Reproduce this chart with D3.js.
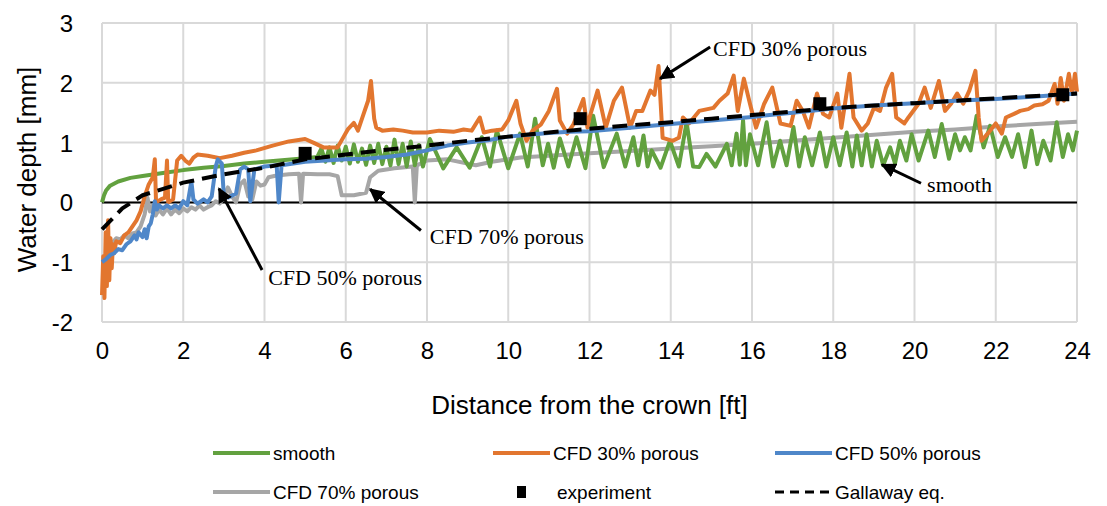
<!DOCTYPE html>
<html>
<head>
<meta charset="utf-8">
<script src="https://cdn.jsdelivr.net/npm/d3@7"></script>
<style>
  body { margin: 0; background: #fff; }
  svg { display: block; }
</style>
</head>
<body>
<div id="chart"></div>
<script>
// Series values: [distance ft, depth mm]
var smooth = [[0,0],[0.05,0.12],[0.1,0.2],[0.2,0.28],[0.4,0.35],[0.7,0.41],[1,0.44],[1.5,0.49],[2,0.54],[2.5,0.58],[3,0.61],[3.5,0.65],[4,0.68],[4.5,0.71],[5,0.74],[5.3,0.76],
  [5.4,0.9],[5.5,0.68],[5.6,0.92],[5.7,0.66],[5.8,0.95],[5.9,0.7],[6.0,0.93],[6.1,0.65],[6.2,0.97],[6.3,0.68],[6.4,0.9],[6.5,0.63],[6.6,0.95],[6.7,0.66],[6.8,0.98],[6.9,0.64],[7.0,0.93],[7.1,0.62],[7.2,1.05],[7.3,0.64],[7.4,0.98],[7.5,0.6],[7.6,1.02],[7.7,0.62],[7.8,0.96],[7.9,0.6],
  [8.07,1.06],[8.4,0.57],[8.73,0.92],[9.05,0.58],[9.35,1.09],[9.55,0.6],[9.72,1.2],[10.0,0.57],[10.29,1.15],[10.48,0.6],[10.66,1.4],[10.85,0.62],[10.98,0.98],[11.12,0.58],[11.27,1.07],[11.48,0.6],[11.68,1.09],[11.9,0.57],
  [12.09,1.45],[12.35,0.59],[12.67,1.15],[12.88,0.6],[13.08,1.09],[13.2,0.62],[13.33,1.12],[13.43,0.6],[13.53,0.87],[13.75,0.58],[13.98,1.03],[14.2,0.6],[14.39,1.34],[14.55,0.6],[14.7,0.59],[14.88,0.81],[15.1,0.6],[15.38,0.98],[15.5,0.62],[15.62,1.15],[15.7,0.63],[15.78,1.37],[15.85,0.62],
  [15.95,1.14],[16.15,0.62],[16.36,1.34],[16.52,0.6],[16.69,1.03],[16.85,0.62],[17.02,1.26],[17.16,0.6],[17.3,1.09],[17.48,0.62],[17.67,1.17],[17.83,0.6],[18.0,1.09],[18.16,0.62],[18.33,1.17],[18.47,0.6],[18.58,1.12],[18.7,0.62],[18.82,1.14],[18.95,0.6],[19.07,1.03],[19.23,0.62],[19.4,0.92],[19.52,0.65],[19.64,1.03],[19.8,0.7],
  [19.93,1.14],[20.1,0.7],[20.34,1.2],[20.5,0.76],[20.67,1.31],[20.85,0.73],[21.0,1.14],[21.12,0.87],[21.24,1.09],[21.38,0.87],[21.53,1.45],[21.7,0.92],[21.86,1.28],[22.05,0.76],[22.23,1.09],[22.4,0.76],[22.55,1.14],[22.72,0.59],[22.88,1.2],[23.02,0.64],[23.17,1.03],[23.35,0.7],[23.5,1.34],[23.65,0.76],[23.78,1.14],[23.9,0.87],[24.0,1.2]];

var porous30 = [[0,-1.55],[0.03,-0.9],[0.06,-1.6],[0.09,-0.5],[0.12,-1.4],[0.15,-0.3],[0.18,-1.3],[0.21,-0.6],[0.24,-1.1],[0.27,-0.7],[0.3,-0.85],[0.35,-0.65],[0.45,-0.68],[0.55,-0.55],[0.65,-0.5],[0.75,-0.4],[0.85,-0.3],[0.95,-0.15],[1.05,0.1],[1.15,0.3],[1.25,0.42],[1.3,0.72],[1.33,0.0],[1.45,0.05],[1.55,0.08],[1.6,0.7],[1.63,0.0],[1.75,0.05],[1.85,0.7],[1.95,0.78],[2.05,0.7],[2.15,0.65],[2.25,0.75],[2.35,0.8],[2.6,0.78],[2.9,0.74],[3.2,0.78],[3.5,0.83],[3.8,0.87],[4.2,0.95],[4.6,1.02],[5.0,1.06],[5.2,1.0],[5.45,0.92],[5.8,0.92],[5.95,1.1],[6.05,1.22],[6.2,1.33],[6.3,1.2],[6.45,1.5],[6.55,1.7],[6.62,2.03],[6.7,1.4],[6.75,1.25],[6.9,1.2],[7.17,1.22],[7.4,1.2],[7.65,1.17],[8.0,1.17],[8.3,1.2],[8.65,1.18],[8.9,1.22],[9.1,1.2],[9.3,1.42],[9.4,1.17],[9.6,1.2],[9.85,1.22],[10.0,1.37],[10.2,1.7],[10.3,1.32],[10.45,1.03],[10.6,1.2],[10.8,1.3],[11.0,1.53],[11.2,1.9],[11.27,1.37],[11.45,1.15],[11.6,1.3],[11.85,1.73],[11.95,1.25],
  [12.0,1.42],[12.2,1.87],[12.4,1.25],[12.6,1.7],[12.8,1.92],[13.0,1.25],[13.15,1.53],[13.3,1.53],[13.5,1.87],[13.6,1.8],[13.7,2.28],[13.8,1.08],[14.05,1.03],[14.2,1.08],[14.3,1.42],[14.45,1.32],[14.7,1.53],[15.05,1.58],[15.2,1.7],[15.4,1.82],[15.55,2.12],[15.65,1.53],[15.8,2.07],[15.95,1.65],[16.1,1.25],[16.3,1.65],[16.5,1.92],[16.7,1.32],[16.95,1.28],[17.1,1.7],[17.25,1.53],[17.4,1.25],[17.6,1.82],[17.75,1.48],[17.9,1.42],[18.1,1.82],[18.2,1.25],[18.4,2.15],[18.5,1.42],[18.7,1.2],[18.85,1.32],[19.0,1.58],[19.15,1.53],[19.3,1.92],[19.45,2.15],[19.55,1.42],[19.75,1.32],[19.85,1.42],
  [20.1,1.65],[20.25,1.92],[20.4,1.58],[20.6,2.03],[20.75,1.53],[20.9,1.65],[21.05,1.82],[21.2,1.65],[21.35,1.87],[21.5,2.2],[21.58,1.42],[21.65,1.03],[21.8,1.15],[22.0,1.32],[22.15,1.15],[22.25,1.42],[22.45,1.48],[22.6,1.53],[22.8,1.56],[22.95,1.62],[23.15,1.64],[23.3,1.7],[23.38,1.85],[23.45,1.98],[23.52,1.65],[23.6,2.08],[23.68,1.7],[23.8,2.15],[23.88,1.82],[23.95,2.15],[24,1.85]];

var porous50 = [[0,-1.0],[0.1,-0.95],[0.2,-0.88],[0.3,-0.85],[0.4,-0.78],[0.5,-0.8],[0.6,-0.7],[0.7,-0.65],[0.8,-0.55],[0.85,-0.62],[0.9,-0.5],[1.0,-0.58],[1.05,-0.45],[1.1,-0.6],[1.15,-0.4],[1.2,-0.35],[1.25,-0.2],[1.3,0.02],[1.35,-0.12],[1.4,-0.05],[1.5,-0.1],[1.6,-0.05],[1.7,-0.1],[1.8,-0.05],[1.9,-0.1],[2.0,0.02],[2.1,-0.05],[2.2,0.35],[2.25,0.05],[2.35,-0.02],[2.5,0.05],[2.6,0.0],[2.7,0.1],[2.8,0.6],[2.85,0.72],[2.95,0.65],[3.0,0.1],[3.1,0.08],[3.3,0.15],[3.4,0.55],[3.5,0.6],[3.6,0.55],[3.65,0.02],[3.75,0.55],[3.9,0.58],[4.0,0.6],[4.3,0.62],[4.35,0.0],[4.42,0.62],[5,0.68],[5.5,0.7],[6,0.72],[6.5,0.73],[7,0.76],[7.5,0.8],[8,0.87],[8.5,0.95],[9,1.0],[9.5,1.04],[10,1.1],[10.5,1.13],[11,1.16],[11.5,1.18],[12,1.19],[13,1.25],[14,1.31],[15,1.37],[16,1.43],[17,1.5],[18,1.57],[19,1.62],[20,1.66],[21,1.7],[22,1.73],[23,1.77],[24,1.82]];

var porous70 = [[0.15,-0.6],[0.25,-0.68],[0.35,-0.6],[0.45,-0.62],[0.55,-0.55],[0.65,-0.6],[0.75,-0.52],[0.85,-0.5],[0.95,-0.4],[1.05,-0.2],[1.12,0.08],[1.18,-0.15],[1.25,-0.05],[1.32,-0.22],[1.4,-0.12],[1.5,-0.2],[1.6,-0.1],[1.7,-0.2],[1.8,-0.12],[1.9,-0.18],[2.0,-0.1],[2.1,-0.15],[2.2,-0.08],[2.3,-0.12],[2.4,-0.05],[2.5,-0.12],[2.6,-0.08],[2.7,-0.05],[2.8,0.02],[2.9,-0.02],[3.0,0.1],[3.1,0.25],[3.2,0.1],[3.3,0.0],[3.4,0.3],[3.5,0.37],[3.6,0.1],[3.7,0.05],[3.8,0.35],[3.9,0.28],[4.0,0.3],[4.1,0.42],[4.3,0.45],[4.6,0.47],[4.85,0.48],[4.9,0.0],[4.95,0.48],[5.3,0.47],[5.6,0.47],[5.8,0.44],[5.9,0.12],[6.2,0.12],[6.5,0.16],[6.6,0.42],[6.8,0.53],[7.2,0.57],[7.65,0.6],[7.7,0.0],[7.75,0.62],[8,0.7],[8.5,0.72],[9.2,0.62],[9.6,0.68],[10.3,0.75],[11,0.78],[12,0.82],[13,0.86],[14,0.9],[15,0.94],[16,0.98],[17,1.03],[18,1.08],[19,1.13],[20,1.18],[21,1.22],[22,1.27],[23,1.31],[24,1.35]];

var experiment = [[5.0,0.82],[11.77,1.4],[17.67,1.65],[23.65,1.8]];

var gallaway = [[0,-0.45],[0.5,-0.1],[1,0.12],[2,0.33],[3,0.47],[4,0.58],[5,0.72],[6,0.8],[7,0.88],[8,0.95],[9,1.03],[10,1.1],[11,1.17],[12,1.23],[13,1.29],[14,1.34],[15,1.4],[16,1.46],[17,1.52],[18,1.58],[19,1.62],[20,1.66],[21,1.7],[22,1.74],[23,1.78],[24,1.82]];

var xTicks = [0,2,4,6,8,10,12,14,16,18,20,22,24];
var yTicks = [-2,-1,0,1,2,3];

// Callouts: label position, arrow tail and tip, in data units
var callouts = [
  {label: "CFD 30% porous", tx: 15.04, ty: 2.58, ax: 14.97, ay: 2.6, bx: 13.74, by: 2.07},
  {label: "smooth", tx: 20.31, ty: 0.3, ax: 20.16, ay: 0.32, bx: 19.2, by: 0.63},
  {label: "CFD 70% porous", tx: 8.07, ty: -0.57, ax: 7.85, ay: -0.47, bx: 6.6, by: 0.22},
  {label: "CFD 50% porous", tx: 4.09, ty: -1.25, ax: 3.94, ay: -1.13, bx: 2.88, by: 0.23}
];

var width = 1107, height = 506;
var margin = {left: 102, right: 30, top: 23, bottom: 184};

var x = d3.scaleLinear().domain([0, 24]).range([margin.left, width - margin.right]);
var y = d3.scaleLinear().domain([-2, 3]).range([height - margin.bottom, margin.top]);

var svg = d3.select("#chart").append("svg")
    .attr("width", width)
    .attr("height", height);

var sans = "'Liberation Sans', Arial, sans-serif";
var serif = "'Liberation Serif', 'Times New Roman', serif";

// Grid
var grid = svg.append("g").attr("stroke", "#d9d9d9").attr("stroke-width", 2);
grid.selectAll(".gx").data(xTicks).enter().append("line")
    .attr("x1", d => x(d)).attr("x2", d => x(d))
    .attr("y1", y(-2)).attr("y2", y(3));
grid.selectAll(".gy").data(yTicks).enter().append("line")
    .attr("x1", x(0)).attr("x2", x(24))
    .attr("y1", d => y(d)).attr("y2", d => y(d));

// Zero line
svg.append("line")
    .attr("x1", x(0)).attr("x2", x(24))
    .attr("y1", y(0)).attr("y2", y(0))
    .attr("stroke", "#000").attr("stroke-width", 2);

// Axes (labels only, Excel style)
var xAxis = svg.append("g")
    .attr("transform", "translate(0," + (y(-2) + 12) + ")")
    .call(d3.axisBottom(x).tickValues(xTicks).tickSize(0).tickFormat(d => String(d)));
var yAxis = svg.append("g")
    .attr("transform", "translate(" + (x(0) - 26) + ",0)")
    .call(d3.axisLeft(y).tickValues(yTicks).tickSize(0).tickFormat(d => String(d)));
[xAxis, yAxis].forEach(function(a) {
  a.select(".domain").remove();
  a.selectAll("text")
    .attr("font-family", sans)
    .attr("font-size", 24)
    .attr("fill", "#000");
});
xAxis.selectAll("text").attr("dy", "0.9em");
yAxis.selectAll("text").attr("dy", "0.35em");

svg.append("text")
    .attr("x", (x(0) + x(24)) / 2).attr("y", 414)
    .attr("text-anchor", "middle")
    .attr("font-family", sans).attr("font-size", 26)
    .text("Distance from the crown [ft]");
svg.append("text")
    .attr("transform", "translate(36," + y(0.55) + ") rotate(-90)")
    .attr("text-anchor", "middle")
    .attr("font-family", sans).attr("font-size", 26)
    .text("Water depth [mm]");

// Lines
var line = d3.line().x(d => x(d[0])).y(d => y(d[1]));
var plot = svg.append("g").attr("fill", "none").attr("stroke-linejoin", "round");

var series = [
  {name: "CFD 70% porous", data: porous70, color: "#a6a6a6"},
  {name: "smooth", data: smooth, color: "#62a13f"},
  {name: "CFD 30% porous", data: porous30, color: "#e2762f"},
  {name: "CFD 50% porous", data: porous50, color: "#4f87c9"}
];
plot.selectAll(".s").data(series).enter().append("path")
    .attr("d", d => line(d.data))
    .attr("stroke", d => d.color)
    .attr("stroke-width", 4);

plot.append("path")
    .attr("d", line(gallaway))
    .attr("stroke", "#000")
    .attr("stroke-width", 4)
    .attr("stroke-dasharray", "15,8");

svg.selectAll(".exp").data(experiment).enter().append("rect")
    .attr("x", d => x(d[0]) - 6.5).attr("y", d => y(d[1]) - 6.5)
    .attr("width", 13).attr("height", 13)
    .attr("fill", "#000");

// Callout arrows
svg.append("defs").append("marker")
    .attr("id", "head")
    .attr("viewBox", "0 0 10 10")
    .attr("refX", 9).attr("refY", 5)
    .attr("markerWidth", 5).attr("markerHeight", 5)
    .attr("orient", "auto")
  .append("path").attr("d", "M0,0L10,5L0,10z").attr("fill", "#000");

var co = svg.append("g");
co.selectAll("line").data(callouts).enter().append("line")
    .attr("x1", d => x(d.ax)).attr("y1", d => y(d.ay))
    .attr("x2", d => x(d.bx)).attr("y2", d => y(d.by))
    .attr("stroke", "#000").attr("stroke-width", 3)
    .attr("marker-end", "url(#head)");
co.selectAll("text").data(callouts).enter().append("text")
    .attr("x", d => x(d.tx)).attr("y", d => y(d.ty))
    .attr("dy", "0.35em")
    .attr("font-family", serif).attr("font-size", 22)
    .text(d => d.label);

// Legend
var legendItems = [
  {name: "smooth", color: "#62a13f", kind: "line", col: 0, row: 0},
  {name: "CFD 30% porous", color: "#e2762f", kind: "line", col: 1, row: 0},
  {name: "CFD 50% porous", color: "#4f87c9", kind: "line", col: 2, row: 0},
  {name: "CFD 70% porous", color: "#a6a6a6", kind: "line", col: 0, row: 1},
  {name: "experiment", color: "#000", kind: "square", col: 1, row: 1},
  {name: "Gallaway eq.", color: "#000", kind: "dash", col: 2, row: 1}
];
var colX = [213, 493, 775], rowY = [453, 492];
var leg = svg.append("g").selectAll("g").data(legendItems).enter().append("g")
    .attr("transform", d => "translate(" + colX[d.col] + "," + rowY[d.row] + ")");
leg.filter(d => d.kind !== "square").append("line")
    .attr("x1", 0).attr("x2", 57)
    .attr("stroke", d => d.color)
    .attr("stroke-width", d => d.kind === "dash" ? 3 : 4)
    .attr("stroke-dasharray", d => d.kind === "dash" ? "9,6" : null);
leg.filter(d => d.kind === "square").append("rect")
    .attr("x", 24).attr("y", -6).attr("width", 9).attr("height", 12)
    .attr("fill", "#000");
leg.append("text")
    .attr("x", d => d.kind === "square" ? 64 : 60)
    .attr("dy", "0.35em")
    .attr("font-family", sans).attr("font-size", 19)
    .text(d => d.name);
</script>
</body>
</html>
